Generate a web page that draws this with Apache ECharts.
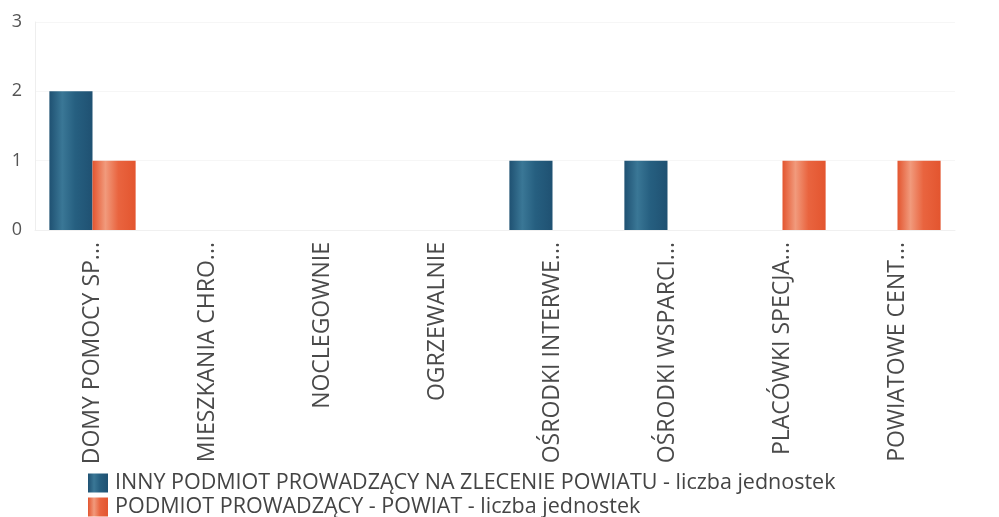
<!DOCTYPE html>
<html>
<head>
<meta charset="utf-8">
<script src="https://cdn.jsdelivr.net/npm/echarts@6/dist/echarts.min.js"></script>
<style>
  html, body { margin: 0; padding: 0; background: #fff; }
  #chart { width: 999px; height: 517px; }
</style>
</head>
<body>
<div id="chart"></div>
<script>
const categories = [
  'DOMY POMOCY SP...',
  'MIESZKANIA CHRO...',
  'NOCLEGOWNIE',
  'OGRZEWALNIE',
  'OŚRODKI INTERWE...',
  'OŚRODKI WSPARCI...',
  'PLACÓWKI SPECJA...',
  'POWIATOWE CENT...'
]
const innyPodmiot = [2, 0, 0, 0, 1, 1, 0, 0]
const powiat = [1, 0, 0, 0, 0, 0, 1, 1]
const seriesNames = [
  'INNY PODMIOT PROWADZĄCY NA ZLECENIE POWIATU - liczba jednostek',
  'PODMIOT PROWADZĄCY - POWIAT - liczba jednostek'
]

// poziomy gradient - efekt "walca"
function walec(dark, mid, light) {
  return new echarts.graphic.LinearGradient(0, 0, 1, 0, [
    {offset: 0, color: dark},
    {offset: 0.3, color: light},
    {offset: 0.6, color: mid},
    {offset: 1, color: dark}
  ])
}

let myEcharts = echarts.init(document.getElementById('chart'))
let option = {
  animation: false,
  textStyle: {fontFamily: '"Open Sans", sans-serif'},
  grid: {left: 35, right: 44, top: 22, bottom: 287},
  legend: {
    orient: 'vertical',
    left: 88,
    top: 472,
    height: 60,
    padding: 0,
    itemWidth: 20,
    itemHeight: 19,
    itemGap: 2,
    icon: 'rect',
    textStyle: {fontSize: 21.5, lineHeight: 19, color: '#444', padding: [0, 0, 0, 2]},
    data: seriesNames
  },
  xAxis: {
    type: 'category',
    data: categories,
    axisLine: {show: true, lineStyle: {color: '#f0f0f0'}},
    axisTick: {show: false},
    axisLabel: {
      rotate: 90,
      interval: 0,
      margin: 12,
      fontSize: 23,
      color: '#4a4a4a'
    }
  },
  yAxis: {
    type: 'value',
    min: 0,
    max: 3,
    interval: 1,
    axisLine: {show: true, lineStyle: {color: '#eeeeee'}},
    axisTick: {show: false},
    axisLabel: {fontSize: 18, color: '#555', margin: 13},
    splitLine: {show: true, lineStyle: {color: '#f6f6f6'}}
  },
  series: [
    {
      name: seriesNames[0],
      type: 'bar',
      barGap: '0%',
      barCategoryGap: '25%',
      itemStyle: {color: walec('#1f5172', '#265f80', '#3a7796')},
      data: innyPodmiot
    },
    {
      name: seriesNames[1],
      type: 'bar',
      itemStyle: {color: walec('#e3552f', '#e9643f', '#f19a7c')},
      data: powiat
    }
  ]
}
myEcharts.setOption(option)
</script>
</body>
</html>
